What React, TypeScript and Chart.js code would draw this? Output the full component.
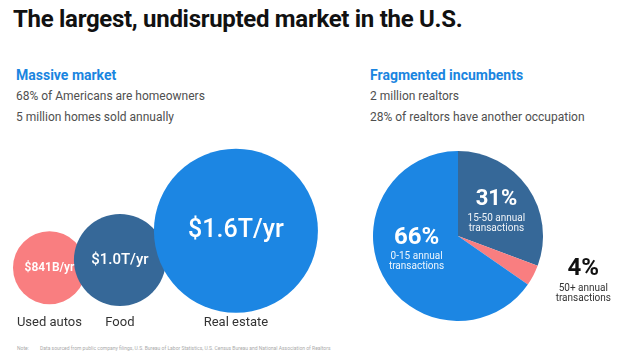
import React, { useEffect, useRef } from "react";
import { Chart, registerables } from "chart.js";
Chart.register(...registerables);

// ---- Data ----
const marketCategories = ["Used autos", "Food", "Real estate"];
const marketValues = [0.841, 1.0, 1.6]; // $ trillions per year
const marketLabels = ["$841B/yr", "$1.0T/yr", "$1.6T/yr"];

const realtorSegments = ["15-50 annual transactions", "50+ annual transactions", "0-15 annual transactions"];
const realtorShares = [31, 4, 66];
const realtorPctLabels = ["31%", "4%", "66%"];
const realtorSubLabels = [
  ["15-50 annual", "transactions"],
  ["50+ annual", "transactions"],
  ["0-15 annual", "transactions"],
];

// ---- Styles ----
const PINK = "#f97e80";
const DARK = "#366898";
const BLUE = "#1c86e3";
const marketColors = [PINK, DARK, BLUE];
const realtorColors = [DARK, PINK, BLUE];
const FONT = "Roboto, 'Noto Sans', sans-serif";

const radiusOf = (v: number) => 60 * v - 14;

function BubbleChart() {
  const ref = useRef<HTMLCanvasElement>(null);
  useEffect(() => {
    const radii = marketValues.map(radiusOf);
    const xs: number[] = [];
    radii.forEach((r, i) => {
      if (i === 0) xs.push(13 + r);
      else xs.push(xs[i - 1] + radii[i - 1] + r - 12);
    });
    const points = marketValues.map((v, i) => ({ x: xs[i], y: 157 - 0.81 * radii[i], r: radii[i] }));

    const labelPlugin = {
      id: "bubbleLabels",
      afterDatasetsDraw(chart: any) {
        const ctx = chart.ctx;
        const meta = chart.getDatasetMeta(0);
        meta.data.forEach((el: any, i: number) => {
          const r = radii[i];
          ctx.save();
          ctx.fillStyle = "#ffffff";
          ctx.textAlign = "center";
          ctx.textBaseline = "middle";
          const w = i === 0 ? 600 : 500;
          const size = Math.min(Math.round(r * 0.33), 25);
          ctx.font = `${w} ${size}px ${FONT}`;
          ctx.fillText(marketLabels[i], el.x, el.y);
          ctx.restore();
        });
      },
    };

    const chart = new Chart(ref.current!, {
      type: "bubble",
      data: {
        datasets: [
          {
            data: points,
            backgroundColor: marketColors,
            borderWidth: 0,
            hoverBorderWidth: 0,
            hoverRadius: 0,
            clip: false as any,
          },
        ],
      },
      options: {
        animation: false,
        responsive: false,
        events: [],
        layout: { padding: 0, autoPadding: false },
        plugins: { legend: { display: false }, tooltip: { enabled: false } },
        scales: {
          x: {
            type: "linear",
            min: 0,
            max: 340,
            grid: { display: false, drawTicks: false },
            border: { display: false },
            afterBuildTicks: (scale: any) => {
              scale.ticks = xs.map((x) => ({ value: x }));
            },
            ticks: {
              padding: 2,
              autoSkip: false,
              maxRotation: 0,
              color: "#333333",
              font: { family: FONT, size: 13 },
              callback: (_v: any, i: number) => marketCategories[i],
            },
          },
          y: {
            type: "linear",
            display: false,
            min: 0,
            max: 173,
            reverse: true,
          },
        },
      },
      plugins: [labelPlugin],
    });
    return () => chart.destroy();
  }, []);
  return (
    <canvas
      ref={ref}
      width={340}
      height={193}
      style={{ position: "absolute", left: 0, top: 140, width: 340, height: 193 }}
    />
  );
}

function PieChart() {
  const ref = useRef<HTMLCanvasElement>(null);
  useEffect(() => {
    const labelPlugin = {
      id: "pieLabels",
      afterDatasetsDraw(chart: any) {
        const ctx = chart.ctx;
        const meta = chart.getDatasetMeta(0);
        meta.data.forEach((arc: any, i: number) => {
          const mid = (arc.startAngle + arc.endAngle) / 2;
          const R = arc.outerRadius;
          let ax: number, ay: number, numSize: number, numColor: string, subColor: string;
          if (realtorShares[i] < 10) {
            ax = arc.x + Math.cos(mid) * R + 50;
            ay = arc.y + Math.sin(mid) * R - 6;
            numSize = 24;
            numColor = "#111111";
            subColor = "#333333";
          } else {
            ax = arc.x + Math.cos(mid) * R * 0.55;
            ay = arc.y + Math.sin(mid) * R * 0.5 - 12;
            if (realtorShares[i] > 50) ay -= 6;
            numSize = realtorShares[i] > 50 ? 24 : 22;
            numColor = "#ffffff";
            subColor = "rgba(255,255,255,0.92)";
          }
          ctx.save();
          ctx.textAlign = "center";
          ctx.textBaseline = "middle";
          ctx.fillStyle = numColor;
          ctx.font = `700 ${numSize}px ${FONT}`;
          ctx.fillText(realtorPctLabels[i], ax, ay);
          ctx.fillStyle = subColor;
          ctx.font = `400 10px ${FONT}`;
          ctx.fillText(realtorSubLabels[i][0], ax, ay + 19);
          ctx.fillText(realtorSubLabels[i][1], ax, ay + 29);
          ctx.restore();
        });
      },
    };
    const chart = new Chart(ref.current!, {
      type: "pie",
      data: {
        labels: realtorSegments,
        datasets: [
          {
            data: realtorShares,
            backgroundColor: realtorColors,
            borderWidth: 0,
            hoverOffset: 0,
          },
        ],
      },
      options: {
        animation: false,
        responsive: false,
        events: [],
        layout: { padding: { left: 33, right: 97, top: 11, bottom: 19 }, autoPadding: false },
        plugins: { legend: { display: false }, tooltip: { enabled: false } },
      },
      plugins: [labelPlugin],
    });
    return () => chart.destroy();
  }, []);
  return (
    <canvas
      ref={ref}
      width={300}
      height={200}
      style={{ position: "absolute", left: 340, top: 140, width: 300, height: 200 }}
    />
  );
}

const txt = (left: number, cy: number, size: number, color: string, weight: number, text: string, extra: any = {}) => (
  <div
    style={{
      position: "absolute",
      left,
      top: cy - size * 0.6,
      fontSize: size,
      lineHeight: `${size * 1.2}px`,
      color,
      fontWeight: weight,
      fontFamily: FONT,
      whiteSpace: "nowrap",
      ...extra,
    }}
  >
    {text}
  </div>
);

export default function App() {
  useEffect(() => {
    document.body.style.margin = "0";
  }, []);
  return (
    <div style={{ position: "fixed", left: 0, top: 0, width: 640, height: 356, background: "#ffffff", overflow: "hidden" }}>
      {txt(13, 19, 24, "#111111", 700, "The largest, undisrupted market in the U.S.", { letterSpacing: "-0.3px" })}
      {txt(16, 75, 14, "#1a85e0", 700, "Massive market")}
      {txt(16, 96, 12, "#4f4f4f", 400, "68% of Americans are homeowners")}
      {txt(16, 117, 12, "#4f4f4f", 400, "5 million homes sold annually")}
      {txt(370, 75, 14, "#1a85e0", 700, "Fragmented incumbents")}
      {txt(370, 96, 12, "#4f4f4f", 400, "2 million realtors")}
      {txt(370, 117, 12, "#4f4f4f", 400, "28% of realtors have another occupation")}
      <BubbleChart />
      <PieChart />
      {txt(17, 348, 5, "#aaaaaa", 400, "Note:")}
      {txt(40, 348, 5, "#aaaaaa", 400, "Data sourced from public company filings, U.S. Bureau of Labor Statistics, U.S. Census Bureau and National Association of Realtors")}
    </div>
  );
}
